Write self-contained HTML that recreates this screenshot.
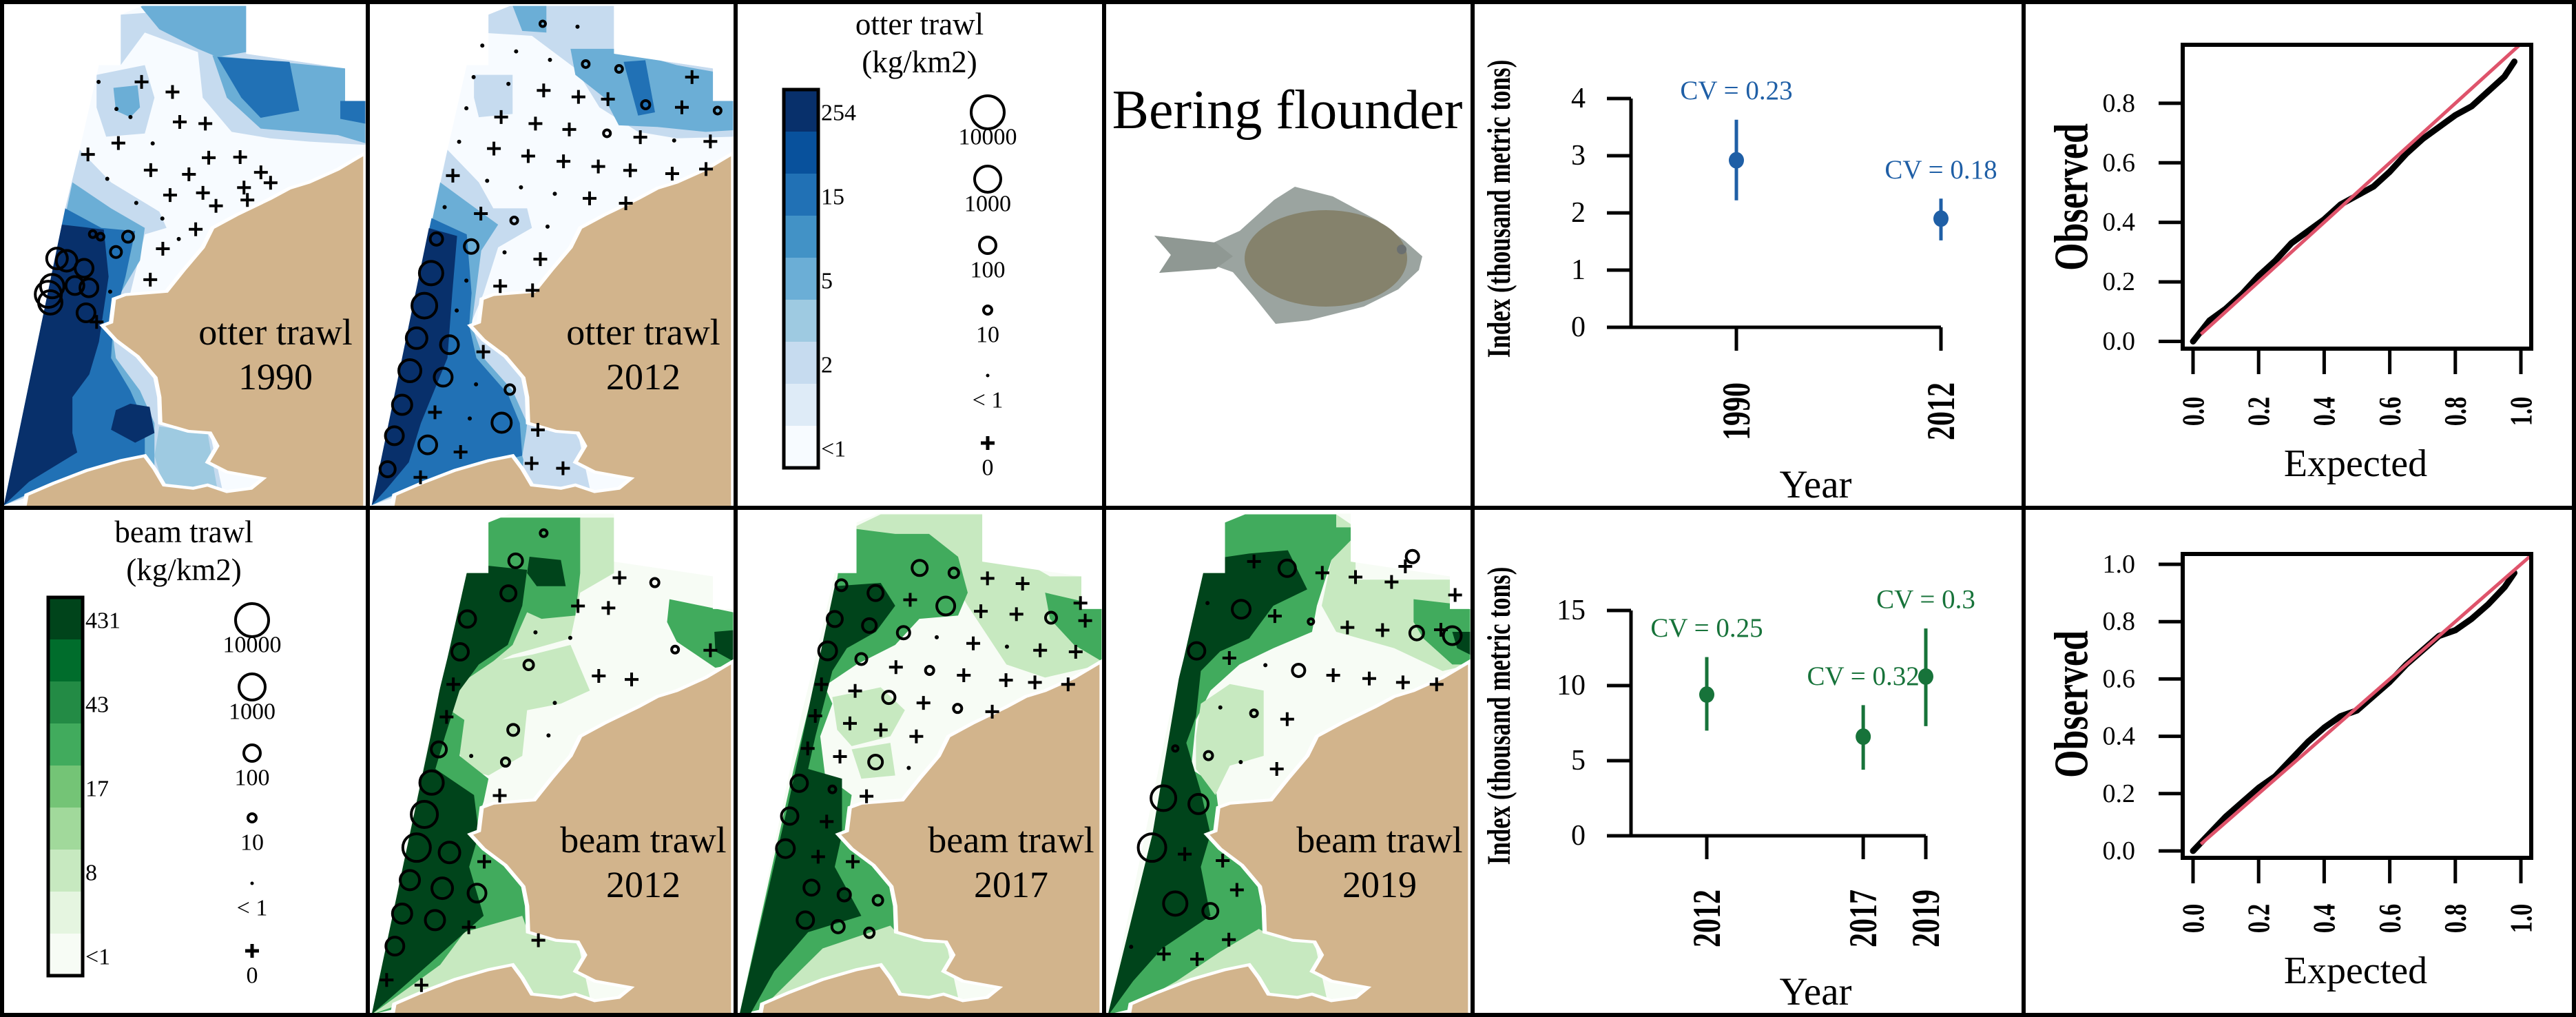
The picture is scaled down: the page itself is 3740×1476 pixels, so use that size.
<!DOCTYPE html>
<html><head><meta charset="utf-8">
<style>
html,body{margin:0;padding:0;background:#fff}
body{width:3740px;height:1476px;overflow:hidden;position:relative;font-family:"Liberation Serif",serif}
#root{position:absolute;left:0;top:0}
</style></head>
<body>
<svg id="root" width="3740" height="1476" viewBox="0 0 3740 1476" xmlns="http://www.w3.org/2000/svg" font-family="Liberation Serif, serif">
  <rect x="0" y="0" width="3740" height="1476" fill="#fff"/>
  <g id="maps"></g>
  <g id="legends"></g>
  <g id="fish">
    <text x="1869" y="186" font-size="80" text-anchor="middle">Bering flounder</text>
    <path d="M1676,342 L1762,352 L1800,335 L1850,290 L1880,271 L1935,285 L2000,320 L2040,350 L2065,372 L2060,392 L2030,420 L1980,445 L1900,465 L1852,470 L1820,430 L1790,395 L1762,385 L1683,396 L1700,370 Z" fill="#9ba4a0"/>
    <ellipse cx="1925" cy="375" rx="118" ry="70" fill="#85826c"/>
    <path d="M1676,342 L1765,352 L1790,372 L1765,390 L1683,396 L1700,370 Z" fill="#8f9893"/>
    <circle cx="2035" cy="362" r="7" fill="#6a6f70"/>
  </g>
  <g id="charts"></g>
  <g id="borders" stroke="#000" stroke-width="6" fill="none">
    <rect x="3" y="3" width="3734" height="1470"/>
    <line x1="534" y1="0" x2="534" y2="1476"/>
    <line x1="1068" y1="0" x2="1068" y2="1476"/>
    <line x1="1603" y1="0" x2="1603" y2="1476"/>
    <line x1="2138" y1="0" x2="2138" y2="1476"/>
    <line x1="2938" y1="0" x2="2938" y2="1476"/>
    <line x1="0" y1="737" x2="3740" y2="737"/>
  </g>
</svg>
<script>
// ---------------- chart data ----------------
const otterYears = [1990, 2012];
const otterIndex = [2.92, 1.90];
const otterLo = [2.22, 1.52];
const otterHi = [3.63, 2.25];
const otterCV = ["0.23", "0.18"];
const otterTicks = [0, 1, 2, 3, 4];

const beamYears = [2012, 2017, 2019];
const beamIndex = [9.4, 6.6, 10.6];
const beamLo = [7.0, 4.4, 7.3];
const beamHi = [11.9, 8.7, 13.8];
const beamCV = ["0.25", "0.32", "0.3"];
const beamTicks = [0, 5, 10, 15];

const qqExpected = [0, 0.05, 0.1, 0.15, 0.2, 0.25, 0.3, 0.35, 0.4, 0.45, 0.5, 0.55, 0.6, 0.65, 0.7, 0.75, 0.8, 0.85, 0.9, 0.95, 0.98];
const qqObsOtter = [0, 0.07, 0.11, 0.16, 0.22, 0.27, 0.33, 0.37, 0.41, 0.46, 0.49, 0.52, 0.57, 0.63, 0.68, 0.72, 0.76, 0.79, 0.84, 0.89, 0.94];
const qqObsBeam = [0, 0.06, 0.12, 0.17, 0.22, 0.26, 0.32, 0.38, 0.43, 0.47, 0.49, 0.54, 0.59, 0.65, 0.70, 0.75, 0.77, 0.81, 0.86, 0.92, 0.97];
const qqTicksTop = [0, 0.2, 0.4, 0.6, 0.8];
const qqTicksBot = [0, 0.2, 0.4, 0.6, 0.8, 1.0];
const qqXTicks = [0, 0.2, 0.4, 0.6, 0.8, 1.0];

const blueBins = ["#08306b","#08519c","#2171b5","#4292c6","#6baed6","#9ecae1","#c6dbef","#deebf7","#f7fbff"];
const greenBins = ["#00441b","#006d2c","#238b45","#41ab5d","#74c476","#a1d99b","#c7e9c0","#e5f5e0","#f7fcf5"];
const otterLegendLabels = ["254","15","5","2","<1"];
const beamLegendLabels = ["431","43","17","8","<1"];
const sizeLegendLabels = ["10000","1000","100","10","< 1","0"];

const NS = "http://www.w3.org/2000/svg";
function mk(tag, attrs, parent) {
  const e = document.createElementNS(NS, tag);
  for (const k in attrs) e.setAttribute(k, attrs[k]);
  parent.appendChild(e);
  return e;
}
function txt(parent, x, y, s, size, extra) {
  const t = mk('text', Object.assign({x: x, y: y, 'font-size': size}, extra || {}), parent);
  t.textContent = s;
  return t;
}

// ---------------- maps ----------------
const B = ["#f7fbff","#deebf7","#c6dbef","#9ecae1","#6baed6","#4292c6","#2171b5","#08519c","#08306b"];
const G = ["#f7fcf5","#e5f5e0","#c7e9c0","#a1d99b","#74c476","#41ab5d","#238b45","#006d2c","#00441b"];
const EXTENT = "250,45 295,18 510,18 510,165 715,210 715,310 757,310 757,1552 8,1552 135,640 165,460 205,200 250,200";
const LAND = "757,470 700,520 640,560 600,578 560,610 490,660 440,700 420,760 380,830 345,895 260,905 236,918 230,990 212,1000 240,1045 285,1095 322,1160 330,1220 332,1300 390,1325 435,1330 450,1370 430,1420 470,1450 545,1470 520,1500 470,1510 430,1490 400,1500 340,1490 320,1440 300,1400 250,1415 180,1445 110,1485 55,1520 50,1560 757,1560";

const maps = [
 {id:'otter1990', x:0, y:0, w:534, h:737, base:B[0], off:0, sx:1.4255, l1:'otter trawl', l2:'1990',
  layers:[
   [B[2],"250,45 510,18 510,165 715,210 757,310 757,445 640,435 560,425 480,405 420,300 410,160 300,100 250,200"],
   [B[4],"290,18 510,18 510,160 450,175 410,150 330,90"],
   [B[4],"440,170 715,210 715,310 757,310 757,440 700,415 620,405 540,395 470,300"],
   [B[6],"450,175 600,190 620,340 540,362 500,300"],
   [B[6],"705,310 757,310 757,380 705,365"],
   [B[2],"200,230 300,200 320,300 300,410 220,420 200,330"],
   [B[4],"235,270 285,262 290,330 270,360 240,340"],
   [B[2],"165,460 230,560 330,650 345,700 300,720 270,900 236,918 230,990 212,1000 240,1045 285,1095 322,1160 332,1300 435,1330 460,1500 330,1510 60,1525 8,1552 135,640"],
   [B[4],"150,560 230,640 300,700 290,800 250,900 230,990 240,1100 290,1200 320,1300 320,1450 110,1485 8,1552"],
   [B[6],"135,640 210,700 280,710 260,850 235,990 230,1100 270,1200 300,1300 300,1400 110,1480 8,1552"],
   [B[8],"128,690 215,705 225,850 205,1050 185,1150 150,1220 150,1330 160,1390 60,1480 8,1552"],
   [B[8],"270,1240 310,1250 320,1330 280,1360 230,1320 240,1260"],
   [B[3],"330,1310 430,1330 450,1500 340,1500 320,1400"]],
  circles:[[192,720,5],[208,728,5],[265,728,8],[240,775,8],[118,795,15],[138,802,15],[174,825,13],[108,880,17],[100,905,19],[104,930,17],[155,878,13],[184,885,13],[178,962,13]],
  dots:[[204,252],[241,335],[270,360],[316,441],[222,550],[282,624],[336,672],[370,735],[228,897]],
  crosses:[[293,252],[357,283],[372,375],[425,380],[245,440],[182,475],[432,485],[497,483],[312,523],[391,536],[540,530],[560,562],[352,600],[420,593],[447,633],[505,577],[512,615],[405,705],[337,765],[311,860],[200,990]]},
 {id:'otter2012', x:534, y:0, w:534, h:737, base:B[0], off:761, sx:1.4255, l1:'otter trawl', l2:'2012',
  layers:[
   [B[2],"230,18 510,18 510,165 715,210 757,310 757,420 640,425 560,405 480,330 430,210 340,110 230,100"],
   [B[4],"300,18 370,18 370,100 320,95"],
   [B[4],"420,150 520,150 640,200 715,220 757,310 757,400 700,405 600,390 520,385 490,300 430,230"],
   [B[6],"530,190 575,185 595,345 560,355"],
   [B[2],"220,230 300,230 300,350 230,360 220,300"],
   [B[2],"165,460 230,560 260,640 330,640 340,700 270,760 240,900 212,1000 240,1045 285,1095 322,1160 332,1300 435,1330 460,1500 60,1525 8,1552"],
   [B[4],"150,560 205,620 270,690 235,770 215,1000 240,1100 300,1200 330,1300 320,1450 110,1485 8,1552"],
   [B[6],"132,670 205,720 215,900 210,1000 225,1100 290,1210 315,1300 320,1400 110,1480 8,1552"],
   [B[8],"125,700 185,725 175,900 165,1100 110,1300 85,1420 40,1500 8,1552"],
   [B[2],"330,1310 430,1330 450,1500 340,1500 320,1400"]],
  circles:[[1123,73,4],[1212,197,5],[1281,212,5],[1336,322,6],[1485,340,5],[1256,410,5],[1064,678,5],[903,735,9],[975,758,10],[892,840,17],[878,940,18],[862,1040,15],[930,1060,13],[848,1140,16],[917,1160,13],[1055,1198,7],[832,1245,14],[1038,1300,14],[816,1340,13],[885,1368,13],[802,1443,11]],
  dots:[[1195,82],[998,140],[1068,158],[1138,184],[980,237],[1052,258],[965,333],[950,436],[1395,432],[1008,556],[1078,576],[1148,596],[920,637],[1133,697],[1044,776],[965,863],[945,955],[985,1182],[972,1287]],
  crosses:[[1432,237],[1125,278],[1197,298],[1258,305],[1411,330],[1037,360],[1108,380],[1178,398],[1325,422],[1470,435],[1022,457],[1093,480],[1166,496],[1238,512],[1304,524],[1391,534],[1461,520],[937,540],[1220,610],[1295,625],[995,657],[1118,797],[1035,880],[1102,893],[1000,1082],[900,1268],[1113,1322],[953,1390],[1100,1425],[1165,1440],[870,1468]]},
 {id:'beam2012', x:534, y:737, w:534, h:739, base:G[0], off:761, sx:1.4255, l1:'beam trawl', l2:'2012',
  layers:[
   [G[2],"210,60 250,30 510,30 510,200 440,260 420,400 300,450 200,520"],
   [G[5],"210,60 250,30 440,30 440,200 430,330 360,340 330,320 300,420 220,520 170,600"],
   [G[2],"170,560 260,470 340,450 420,420 460,560 400,600 330,620 320,760 250,820 200,800 180,700"],
   [G[5],"625,280 757,320 757,480 720,490 640,410 620,350"],
   [G[8],"718,380 757,375 757,470 720,440"],
   [G[5],"150,600 200,650 190,760 250,830 240,900 236,918 230,990 212,1000 240,1045 285,1095 322,1160 332,1300 300,1450 8,1552"],
   [G[2],"200,1300 320,1250 332,1300 435,1330 460,1500 60,1525 8,1552 150,1400"],
   [G[8],"200,170 330,190 320,300 290,420 230,480 190,560 160,700 140,800 220,880 230,1000 210,1100 240,1250 110,1420 8,1552 130,700"],
   [G[8],"335,150 400,160 410,240 350,240 330,200"]],
  circles:[[1125,78,5],[1067,163,10],[1052,263,11],[967,342,12],[952,443,12],[1094,483,7],[1062,683,8],[908,743,11],[1046,782,6],[893,845,17],[878,943,19],[862,1045,20],[930,1060,15],[848,1145,14],[915,1170,15],[987,1185,13],[832,1248,14],[900,1268,14],[817,1348,13],[1355,230,6],[1397,436,5]],
  dots:[[1108,383],[1180,400],[1148,600],[1135,700],[975,763]],
  crosses:[[1282,215],[1196,302],[1259,308],[1470,438],[1239,517],[1307,528],[938,543],[924,643],[1034,885],[1002,1088],[970,1290],[1114,1330],[800,1452],[872,1468]]},
 {id:'beam2017', x:1068, y:737, w:535, h:739, base:G[0], off:12, sx:1.452, l1:'beam trawl', l2:'2017',
  layers:[
   [G[2],"230,70 300,20 520,20 520,100 650,210 740,210 757,300 757,480 640,520 560,480 480,300 420,150"],
   [G[5],"225,60 330,80 400,80 460,150 480,260 460,330 380,340 330,420 250,480 190,540 170,640"],
   [G[5],"640,260 757,300 757,470 700,420 650,340"],
   [G[2],"200,580 300,550 350,620 320,700 240,730 210,680"],
   [G[2],"240,740 320,720 330,820 260,830"],
   [G[5],"170,500 200,600 175,700 185,820 240,880 236,918 230,990 212,1000 240,1045 285,1095 322,1160 332,1300 300,1450 8,1552 120,800"],
   [G[2],"180,1350 320,1280 332,1300 435,1330 460,1500 60,1525"],
   [G[8],"205,240 300,230 330,300 290,380 230,430 200,500 165,700 150,800 220,830 220,1000 205,1100 260,1250 150,1300 80,1420 30,1552 8,1552 110,900"]],
  circles:[[400,185,11],[472,200,7],[235,238,8],[307,262,11],[455,302,13],[221,342,11],[294,362,10],[366,384,9],[677,338,8],[206,440,13],[277,465,8],[421,500,6],[335,583,9],[480,617,6],[307,782,10],[146,847,12],[216,866,5],[126,948,12],[117,1048,13],[172,1168,11],[241,1190,9],[312,1207,7],[159,1268,12],[228,1288,9],[294,1307,7]],
  dots:[[436,398],[584,427],[377,800]],
  crosses:[[543,217],[617,233],[380,283],[739,293],[529,318],[604,327],[749,347],[513,417],[654,438],[729,443],[350,490],[493,515],[582,530],[643,537],[713,543],[193,543],[264,563],[408,600],[553,627],[180,640],[253,663],[318,683],[393,703],[164,740],[232,765],[288,887],[204,965],[186,1073],[259,1088]]},
 {id:'beam2019', x:1603, y:737, w:535, h:739, base:G[0], off:788, sx:1.452, l1:'beam trawl', l2:'2019',
  layers:[
   [G[2],"230,70 480,20 520,60 520,220 757,220 757,480 700,500 600,430 480,380 450,300 470,160"],
   [G[5],"215,75 260,20 480,20 480,60 510,60 510,100 470,160 440,300 430,380 350,430 280,480 220,560 190,650 180,800 230,850 236,918 230,990 212,1000 240,1045 285,1095 322,1160 332,1300 300,1450 8,1552 150,700 200,200"],
   [G[2],"200,600 260,540 330,560 330,760 260,790 230,880 190,800 190,700"],
   [G[5],"640,280 757,300 757,480 720,480 660,400 640,350"],
   [G[8],"720,380 757,380 757,450 730,430"],
   [G[8],"210,160 300,140 380,130 420,250 350,300 300,400 240,440 200,500 190,640 170,720 200,870 220,1000 200,1100 220,1250 120,1350 60,1450 10,1552 8,1552 100,1000 180,300"],
   [G[2],"240,1360 320,1290 332,1300 435,1330 460,1500 60,1525 150,1450"]],
  circles:[[1438,150,9],[1174,186,12],[1077,312,13],[1224,350,4],[1447,385,10],[1522,393,13],[983,440,12],[1198,500,9],[1104,632,5],[938,740,4],[1008,762,6],[913,893,18],[987,911,14],[889,1045,20],[938,1217,17],[1012,1240,11]],
  dots:[[1006,293],[1128,484],[1033,614],[1076,782],[845,1350]],
  crosses:[[1104,165],[1423,180],[1248,200],[1318,213],[1394,228],[1528,268],[1148,333],[1301,368],[1375,376],[1498,375],[1052,462],[1271,515],[1347,525],[1418,537],[1489,543],[1174,650],[1152,803],[958,1065],[1038,1085],[1068,1175],[1051,1328],[914,1372],[984,1388]]}
];

const mapsG = document.getElementById('maps');
maps.forEach(m => {
  const g = mk('g', {transform: `translate(${m.x},${m.y})`}, mapsG);
  
  
  const s = mk('svg', {x: 0, y: 0, width: m.w, height: m.h, viewBox: '0 0 762 1560', preserveAspectRatio: 'none'}, g);
  
  
  const defs = mk('defs', {}, s);
  const cp = mk('clipPath', {id: 'clip-' + m.id}, defs);
  mk('polygon', {points: EXTENT}, cp);
  const base = mk('polygon', {points: EXTENT, fill: m.base}, s);
  
  
  const lg = mk('g', {'clip-path': `url(#clip-${m.id})`}, s);
  
  
  m.layers.forEach(L => {
    const p = mk('polygon', {points: L[1], fill: L[0]}, lg);
    
    
  });
  const land = mk('polygon', {points: LAND, fill: '#d2b48c', stroke: '#fff', 'stroke-width': 9}, s);
  
  
  // markers in pixel space
  const mg = mk('g', {}, g);
  
  
  const px = zx => (zx - m.off) / m.sx;
  const py = zy => zy / 2.119;
  m.circles.forEach(c => {
    const e = mk('circle', {cx: px(c[0]), cy: py(c[1]), r: c[2], fill: 'none', stroke: '#000', 'stroke-width': 4}, mg);
    
    
  });
  m.dots.forEach(c => {
    const e = mk('circle', {cx: px(c[0]), cy: py(c[1]), r: 3, fill: '#000'}, mg);
    
    
  });
  m.crosses.forEach(c => {
    const x = px(c[0]), y = py(c[1]);
    const e = mk('path', {d: `M${x-10},${y}H${x+10}M${x},${y-10}V${y+10}`, stroke: '#000', 'stroke-width': 4}, mg);
    
    
  });
  const t1 = txt(g, 400, 500, m.l1, 54, {'text-anchor': 'middle'});
  
  
  const t2 = txt(g, 400, 565, m.l2, 54, {'text-anchor': 'middle'});
  
  
});

// ---------------- legends ----------------
const legG = document.getElementById('legends');
function legend(ox, oy, title, bins, labels, name) {
  const g = mk('g', {transform: `translate(${ox},${oy})`}, legG);
  
  
  const a = txt(g, 267, 50, title, 45, {'text-anchor': 'middle'});
  
  
  const b = txt(g, 267, 105, '(kg/km2)', 45, {'text-anchor': 'middle'});
  
  
  const top = 130, step = 61, x0 = 70, wb = 50;
  bins.forEach((c, i) => {
    const r = mk('rect', {x: x0, y: top + i * step, width: wb, height: step + 0.5, fill: c}, g);
    
    
  });
  const fr = mk('rect', {x: x0, y: top, width: wb, height: step * 9, fill: 'none', stroke: '#000', 'stroke-width': 5}, g);
  
  
  labels.forEach((l, i) => {
    const t = txt(g, x0 + wb + 4, top + 34 + i * 2 * step, l, 34, {'dominant-baseline': 'central'});
    
    
  });
  const cy = [163, 260, 356, 450, 545, 643], rr = [24, 19, 12, 6];
  for (let i = 0; i < 6; i++) {
    let e;
    if (i < 4) e = mk('circle', {cx: 366, cy: cy[i], r: rr[i], fill: 'none', stroke: '#000', 'stroke-width': 4}, g);
    else if (i === 4) e = mk('circle', {cx: 366, cy: cy[i], r: 2.5, fill: '#000'}, g);
    else e = mk('path', {d: `M356,${cy[i]}H376M366,${cy[i]-10}V${cy[i]+10}`, stroke: '#000', 'stroke-width': 5}, g);
    
    
    const t = txt(g, 366, cy[i] + 36, sizeLegendLabels[i], 34, {'text-anchor': 'middle', 'dominant-baseline': 'central'});
    
    
  }
}
legend(1068, 0, 'otter trawl', blueBins, otterLegendLabels, 'otter-legend');
legend(0, 737, 'beam trawl', greenBins, beamLegendLabels, 'beam-legend');

// ---------------- charts ----------------
const ch = document.getElementById('charts');
function rotText(parent, x, y, s, size, bold, name) {
  const t = mk('text', {transform: `translate(${x},${y}) rotate(-90) scale(1,1.35)`, 'font-size': size, 'text-anchor': 'middle', 'dominant-baseline': 'central', 'font-weight': bold ? 'bold' : 'normal'}, parent);
  t.textContent = s;
  
  
  return t;
}
function indexChart(oy, years, vals, lo, hi, cvs, ticks, yOf, xOf, color, name) {
  const g = mk('g', {}, ch);
  
  
  const tmax = ticks[ticks.length - 1];
  const ax = mk('line', {x1: 2368, y1: yOf(tmax), x2: 2368, y2: yOf(0), stroke: '#000', 'stroke-width': 5}, g);
  
  
  ticks.forEach(v => {
    const l = mk('line', {x1: 2333, y1: yOf(v), x2: 2368, y2: yOf(v), stroke: '#000', 'stroke-width': 5}, g);
    
    
    const t = txt(g, 2302, yOf(v), String(v), 42, {'text-anchor': 'end', 'dominant-baseline': 'central'});
    
    
  });
  const xa = mk('line', {x1: 2333, y1: yOf(0), x2: xOf(years[years.length - 1]), y2: yOf(0), stroke: '#000', 'stroke-width': 5}, g);
  
  
  years.forEach((yr, i) => {
    const x = xOf(yr);
    const l = mk('line', {x1: x, y1: yOf(0), x2: x, y2: yOf(0) + 34, stroke: '#000', 'stroke-width': 5}, g);
    
    
    rotText(g, x, oy + 597, String(yr), 42, true, 'x-tick-label');
    const eb = mk('line', {x1: x, y1: yOf(hi[i]), x2: x, y2: yOf(lo[i]), stroke: color, 'stroke-width': 5}, g);
    
    
    const pt = mk('ellipse', {cx: x, cy: yOf(vals[i]), rx: 11, ry: 12, fill: color}, g);
    
    
    const cv = txt(g, x, yOf(hi[i]) - 42, 'CV = ' + cvs[i], 39, {'text-anchor': 'middle', 'dominant-baseline': 'central', fill: color});
    
    
  });
  rotText(g, 2176, oy + 303, 'Index (thousand metric tons)', 35, true, 'y-axis-title');
  const yt = txt(g, 2636, oy + 722, 'Year', 57, {'text-anchor': 'middle'});
  
  
}
indexChart(0, otterYears, otterIndex, otterLo, otterHi, otterCV, otterTicks,
  v => 475 - v * 83, yr => 2521 + (yr - 1990) / 22 * 297, '#1f5fa6', 'otter-index-chart');
indexChart(736, beamYears, beamIndex, beamLo, beamHi, beamCV, beamTicks,
  v => 1213 - v * 21.8, yr => 2478 + (yr - 2012) / 7 * 318, '#17733a', 'beam-index-chart');

function qqChart(oy, boxTop, boxBot, yOf, ticks, obs, name) {
  const g = mk('g', {}, ch);
  
  
  const xOf = v => 3184 + v * 476;
  const pts = qqExpected.map((e, i) => `${xOf(e)},${yOf(obs[i])}`).join(' ');
  const pl = mk('polyline', {points: pts, fill: 'none', stroke: '#000', 'stroke-width': 9, 'stroke-linejoin': 'round', 'stroke-linecap': 'round'}, g);
  
  
  const lo = Math.max(-0.03, (yOf(-1) > 0 ? (yOf(0) - boxBot) / (yOf(1) - yOf(0)) : -0.03));
  const hiV = Math.min(1.03, (yOf(0) - boxTop) / (yOf(0) - yOf(1)));
  const rl = mk('line', {x1: xOf(lo), y1: yOf(lo), x2: xOf(hiV), y2: yOf(hiV), stroke: '#df536b', 'stroke-width': 5}, g);
  
  
  const box = mk('rect', {x: 3169, y: boxTop, width: 506, height: boxBot - boxTop, fill: 'none', stroke: '#000', 'stroke-width': 6}, g);
  
  
  ticks.forEach(v => {
    const l = mk('line', {x1: 3134, y1: yOf(v), x2: 3169, y2: yOf(v), stroke: '#000', 'stroke-width': 5}, g);
    
    
    const t = txt(g, 3100, yOf(v), v.toFixed(1), 38, {'text-anchor': 'end', 'dominant-baseline': 'central'});
    
    
  });
  qqXTicks.forEach(v => {
    const l = mk('line', {x1: xOf(v), y1: boxBot, x2: xOf(v), y2: boxBot + 37, stroke: '#000', 'stroke-width': 5}, g);
    
    
    rotText(g, xOf(v), oy + 597, v.toFixed(1), 34, true, 'x-tick-label');
  });
  rotText(g, 3008, oy + 286, 'Observed', 52, true, 'y-axis-title');
  const xt = txt(g, 3420, oy + 691, 'Expected', 56, {'text-anchor': 'middle'});
  
  
}
qqChart(0, 65, 506, v => 495.5 - v * 432, qqTicksTop, qqObsOtter, 'otter-qq-chart');
qqChart(736, 804, 1245, v => 1235 - v * 416, qqTicksBot, qqObsBeam, 'beam-qq-chart');
</script>
</body></html>
